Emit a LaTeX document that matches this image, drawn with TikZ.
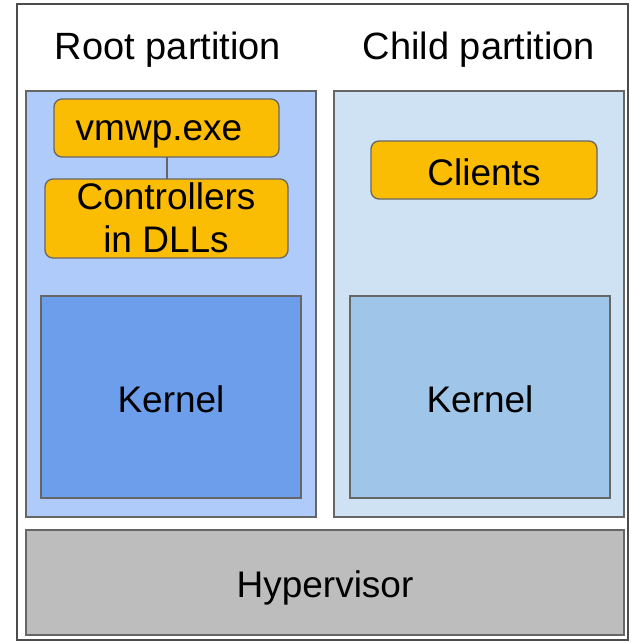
\documentclass[tikz,border=0pt]{standalone}
\usepackage{fontspec}
\setmainfont{Liberation Sans}
\definecolor{rootfill}{HTML}{AECBFA}
\definecolor{childfill}{HTML}{CFE2F3}
\definecolor{rootkernel}{HTML}{6D9EEB}
\definecolor{childkernel}{HTML}{9FC5E8}
\definecolor{procfill}{HTML}{FBBC04}
\definecolor{hvfill}{HTML}{BDBDBD}
\definecolor{edge}{HTML}{666666}
\begin{document}
\begin{tikzpicture}[x=1pt,y=-1pt,
  panel/.style={draw=edge,line width=1.3pt},
  proc/.style={draw=edge,line width=1.3pt,fill=procfill,rounded corners=8pt},
  lbl/.style={font=\fontsize{37}{43}\selectfont,align=center,inner sep=0pt,anchor=base},
  head/.style={font=\fontsize{38}{42}\selectfont,inner sep=0pt,anchor=base}]
\useasboundingbox (0,0) rectangle (631,643);
% outer frame
\draw[draw=black!70,line width=2.5pt] (17,4) rectangle (628,640);
% headings
\node[head] (roothead) at (168,59) {Root partition};
\node[head] (childhead) at (479,59) {Child partition};
% partitions
\draw[panel,fill=rootfill] (26,91) rectangle (316,517);
\draw[panel,fill=childfill] (334,91) rectangle (624,517);
% kernels
\draw[panel,fill=rootkernel] (41,296) rectangle (301,498);
\node[lbl] (kroot) at (171,412) {Kernel};
\draw[panel,fill=childkernel] (350,296) rectangle (610,498);
\node[lbl] (kchild) at (480,412) {Kernel};
% processes
\draw[proc] (54,99) rectangle (279,157);
\node[lbl] (vmwp) at (159,140) {vmwp.exe};
\coordinate (vmwpbot) at (167,157);
\draw[proc] (45,179) rectangle (288,258);
\node[lbl] (ctrl) at (166,209) {Controllers};
\node[lbl] (ctrl2) at (166,252) {in DLLs};
\coordinate (ctrltop) at (167,179);
\draw[edge,line width=1.3pt] (vmwpbot) -- (ctrltop);
\draw[proc] (371,141) rectangle (597,199);
\node[lbl] (clients) at (484,185) {Clients};
% hypervisor
\draw[panel,fill=hvfill] (26,530) rectangle (624,635);
\node[lbl] (hv) at (325,597) {Hypervisor};
\end{tikzpicture}
\end{document}
